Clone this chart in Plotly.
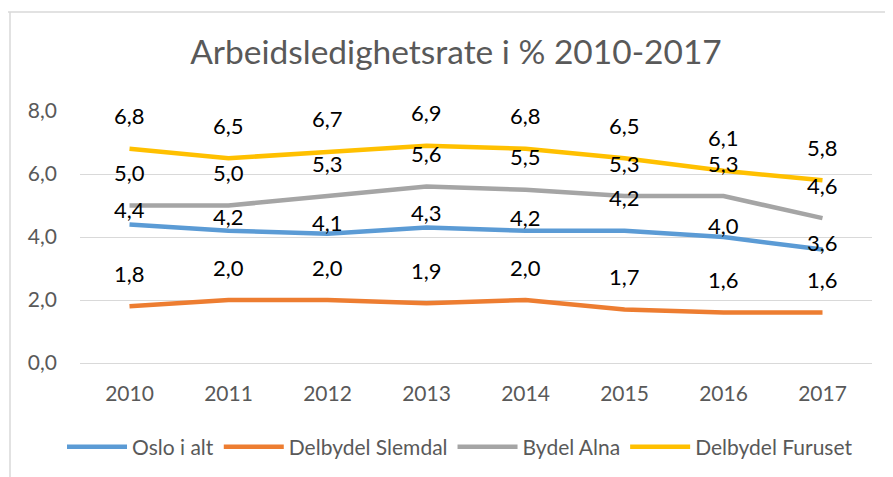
import plotly.graph_objects as go

years = ["2010", "2011", "2012", "2013", "2014", "2015", "2016", "2017"]
oslo = [4.4, 4.2, 4.1, 4.3, 4.2, 4.2, 4.0, 3.6]
slemdal = [1.8, 2.0, 2.0, 1.9, 2.0, 1.7, 1.6, 1.6]
alna = [5.0, 5.0, 5.3, 5.6, 5.5, 5.3, 5.3, 4.6]
furuset = [6.8, 6.5, 6.7, 6.9, 6.8, 6.5, 6.1, 5.8]

series = [
    ("Oslo i alt", oslo, "#5B9BD5"),
    ("Delbydel Slemdal", slemdal, "#ED7D31"),
    ("Bydel Alna", alna, "#A5A5A5"),
    ("Delbydel Furuset", furuset, "#FFC000"),
]
# label offsets (pixels above the line), per series
label_shift = {
    "Oslo i alt": [15, 14, 11, 15, 13, 33, 12, 7],
    "Delbydel Slemdal": [33] * 8,
    "Bydel Alna": [33] * 8,
    "Delbydel Furuset": [33] * 8,
}

FONT = "Lato, Carlito, Calibri, 'Open Sans', sans-serif"

fig = go.Figure()
annotations = []
for name, vals, color in series:
    fig.add_trace(go.Scatter(
        x=years, y=vals, name=name, mode="lines",
        line=dict(color=color, width=4.5, shape="linear"),
        hoverinfo="x+y+name",
    ))
    for i, (v, s) in enumerate(zip(vals, label_shift[name])):
        annotations.append(dict(
            x=i, y=v, xref="x", yref="y", text=f"{v:.1f}".replace(".", ","),
            showarrow=False, yshift=s, font=dict(size=22, color="#000000", family=FONT),
        ))

OFF = 8  # page body margin
W, H = 893, 477
# target plot area in screen pixels
PX0, PX1, PY0, PY1 = 80, 872, 111, 363
L, T = PX0 - OFF, PY0 - OFF
R, B = W - (PX1 - OFF), H - (PY1 - OFF)
pw, ph = W - L - R, H - T - B

def px_x(p):
    return (p - PX0) / pw

def px_y(p):
    return (PY1 - p) / ph

shapes = [
    dict(type="line", xref="paper", yref="paper", x0=px_x(5), x1=px_x(W + 20),
         y0=px_y(12), y1=px_y(12), line=dict(color="#D9D9D9", width=1.5), layer="below"),
    dict(type="line", xref="paper", yref="paper", x0=px_x(10), x1=px_x(10),
         y0=px_y(12), y1=px_y(H + 20), line=dict(color="#D9D9D9", width=1.5), layer="below"),
]

fig.update_layout(
    width=W, height=H,
    margin=dict(l=L, r=R, t=T, b=B, autoexpand=False),
    paper_bgcolor="white", plot_bgcolor="white",
    separators=", ",
    font=dict(family=FONT, color="#595959"),
    title=dict(text="Arbeidsledighetsrate i % 2010-2017", x=px_x(456), xanchor="center",
               xref="paper", y=1 - (52 - OFF) / H, yanchor="middle",
               font=dict(size=33.5, color="#595959", family=FONT)),
    xaxis=dict(type="category", range=[-0.5, 7.5], showgrid=False, showline=False,
               zeroline=False, ticks="", tickfont=dict(size=21, color="#595959"),
               ticklabelstandoff=16, automargin=False),
    yaxis=dict(range=[0, 8], dtick=2, tickformat=".1f", showgrid=True,
               gridcolor="#D9D9D9", gridwidth=1, zeroline=True, zerolinecolor="#D9D9D9",
               zerolinewidth=1, showline=False, ticks="",
               tickfont=dict(size=21, color="#595959"), ticklabelstandoff=22,
               automargin=False),
    legend=dict(orientation="h", x=px_x(460), xanchor="center", y=px_y(447), yanchor="middle",
                font=dict(size=21, color="#595959"), itemwidth=60, tracegroupgap=0),
    annotations=annotations,
    shapes=shapes,
    showlegend=True,
)

fig.write_html("out.html")
